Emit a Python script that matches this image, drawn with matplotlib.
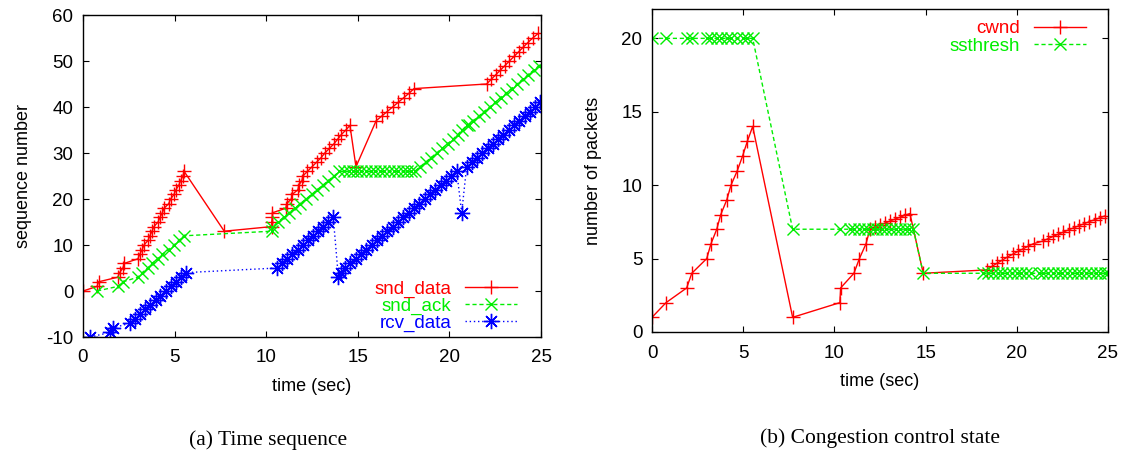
import matplotlib
matplotlib.use('Agg')
import matplotlib.pyplot as plt

plt.rcParams['font.family'] = ['Liberation Sans', 'DejaVu Sans']
plt.rcParams['axes.unicode_minus'] = False

# (a) time sequence
snd_data_t = [0, 0.77, 0.85, 1.9, 2.0, 2.18, 2.25, 3.0, 3.1, 3.23, 3.33, 3.55, 3.65,
              3.77, 3.87, 4.1, 4.2, 4.33, 4.43, 4.68, 4.78, 4.97, 5.07, 5.23, 5.33,
              5.45, 5.52, 7.71, 10.3, 10.3, 10.34, 10.34, 11.07, 11.12, 11.37, 11.42,
              11.73, 11.78, 11.95, 12.0, 12.25, 12.5, 12.75, 13.0, 13.2, 13.45, 13.7,
              13.9, 14.1, 14.35, 14.57, 14.9, 16.0, 16.3, 16.6, 16.9, 17.2, 17.5,
              17.8, 18.07, 22.03, 22.28, 22.53, 22.78, 23.03, 23.28, 23.53, 23.78,
              24.03, 24.28, 24.55, 24.85]
snd_data_s = [0, 1, 2, 3, 4, 5, 6, 7, 8, 9, 10, 11, 12, 13, 14, 15, 16, 17, 18, 19,
              20, 21, 22, 23, 24, 25, 26, 13, 14, 15, 16, 17, 18, 19, 20, 21, 22, 23,
              24, 25, 26, 27, 28, 29, 30, 31, 32, 33, 34, 35, 36, 27, 37, 38, 39, 40,
              41, 42, 43, 44, 45, 46, 47, 48, 49, 50, 51, 52, 53, 54, 55, 56]

snd_ack_t = [0.77, 1.9, 2.18, 3.0, 3.23, 3.55, 3.77, 4.1, 4.33, 4.68, 4.97, 5.23, 5.52,
             10.3, 10.34, 10.65, 10.95, 11.26, 11.56, 11.87, 12.17, 12.48, 12.78,
             13.09, 13.39, 13.7, 14.0, 14.25, 14.5, 14.75, 14.95, 15.2, 15.45, 15.7,
             15.95, 16.2, 16.45, 16.7, 16.95, 17.2, 17.45, 17.7, 17.9, 18.1, 18.4,
             18.7, 19.0, 19.3, 19.6, 19.9, 20.2, 20.45, 20.7, 20.95, 21.05, 21.3,
             21.6, 21.9, 22.2, 22.5, 22.8, 23.1, 23.4, 23.7, 24.0, 24.3, 24.6, 24.9]
snd_ack_s = [0, 1, 2, 3, 4, 5, 6, 7, 8, 9, 10, 11, 12, 13, 14, 15, 16, 17, 18, 19, 20,
             21, 22, 23, 24, 25, 26, 26, 26, 26, 26, 26, 26, 26, 26, 26, 26, 26, 26,
             26, 26, 26, 26, 26, 27, 28, 29, 30, 31, 32, 33, 34, 35, 36, 36, 37, 38,
             39, 40, 41, 42, 43, 44, 45, 46, 47, 48, 49]

rcv_data_t = [0.38, 1.5, 1.66, 2.57, 2.85, 3.12, 3.4, 3.68, 3.96, 4.23, 4.51, 4.79,
              5.07, 5.34, 5.62, 10.6, 10.88, 11.16, 11.43, 11.71, 11.99, 12.27, 12.55,
              12.82, 13.1, 13.38, 13.66, 13.94, 14.1, 14.3, 14.59, 14.88, 15.17, 15.46,
              15.75, 16.04, 16.33, 16.62, 16.91, 17.2, 17.49, 17.78, 18.07, 18.36,
              18.65, 18.94, 19.23, 19.52, 19.81, 20.1, 20.4, 20.67, 20.94, 21.23,
              21.52, 21.8, 22.09, 22.38, 22.66, 22.95, 23.24, 23.52, 23.81, 24.1,
              24.38, 24.67, 24.95]
rcv_data_s = [-10, -9, -8, -7, -6, -5, -4, -3, -2, -1, 0, 1, 2, 3, 4, 5, 6, 7, 8, 9, 10,
              11, 12, 13, 14, 15, 16, 3, 4, 5, 6, 7, 8, 9, 10, 11, 12, 13, 14, 15, 16,
              17, 18, 19, 20, 21, 22, 23, 24, 25, 26, 17, 27, 28, 29, 30, 31, 32, 33,
              34, 35, 36, 37, 38, 39, 40, 41]

# (b) congestion control state
cwnd_t = [0, 0.77, 1.9, 2.18, 3.0, 3.23, 3.55, 3.77, 4.1, 4.33, 4.68, 4.97, 5.23, 5.52,
          7.71, 10.3, 10.34, 11.07, 11.37, 11.73, 11.95, 12.23, 12.5, 12.78, 13.05,
          13.32, 13.6, 13.87, 14.14, 14.87, 18.35, 18.64, 18.92, 19.21, 19.49, 19.78,
          20.06, 20.35, 20.63, 20.92, 21.42, 21.7, 21.99, 22.27, 22.56, 22.84, 23.13,
          23.41, 23.7, 23.98, 24.27, 24.55, 24.84]
cwnd_v = [1, 2, 3, 4, 5, 6, 7, 8, 9, 10, 11, 12, 13, 14, 1, 2, 3, 4, 5, 6, 7, 7.14,
          7.28, 7.42, 7.56, 7.69, 7.82, 7.95, 8.07, 4, 4.23, 4.47, 4.69, 4.9, 5.11,
          5.3, 5.49, 5.67, 5.85, 6.02, 6.19, 6.35, 6.51, 6.66, 6.81, 6.96, 7.1, 7.24,
          7.38, 7.52, 7.65, 7.78, 7.91]

ssthresh_t = [0, 0.77, 1.9, 2.18, 3.0, 3.23, 3.55, 3.77, 4.1, 4.33, 4.68, 4.97, 5.23,
              5.52, 7.71, 10.3, 10.85, 11.1, 11.35, 11.6, 11.85, 12.1, 12.35, 12.6,
              12.85, 13.1, 13.35, 13.6, 13.85, 14.1, 14.33, 14.87, 18.17, 18.43, 18.69,
              18.95, 19.21, 19.47, 19.73, 19.99, 20.25, 20.51, 20.77, 21.2, 21.46,
              21.72, 21.98, 22.24, 22.5, 22.76, 23.02, 23.28, 23.54, 23.8, 24.06,
              24.32, 24.58, 24.84, 25.0]
ssthresh_v = [20] * 14 + [7] * 17 + [4] * 28

RED = '#ff0000'
GREEN = '#00ee00'
BLUE = '#0000ff'
ASTER = (8, 2, 0)  # gnuplot style asterisk

fig = plt.figure(figsize=(11.27, 4.59), dpi=100)


def style_axes(ax, xlim, ylim, yticks):
    ax.set_xlim(xlim)
    ax.set_ylim(ylim)
    ax.set_xticks([0, 5, 10, 15, 20, 25])
    ax.set_yticks(yticks)
    ax.tick_params(direction='in', top=True, right=True, length=4.5, width=0.8,
                   labelsize=13.5)
    ax.tick_params(axis='x', pad=9)
    ax.tick_params(axis='y', pad=7)
    for sp in ax.spines.values():
        sp.set_linewidth(1.0)


# left panel
ax1 = fig.add_axes([83 / 1127, 1 - 337 / 459, 458 / 1127, 322 / 459])
ax1.plot(snd_data_t, snd_data_s, color=RED, lw=1.0, marker='+', ms=10, mew=1.0,
         label='snd_data')
ax1.plot(snd_ack_t, snd_ack_s, color=GREEN, lw=1.0, ls=(0, (3, 2)), marker='x', ms=8,
         mew=1.0, label='snd_ack')
ax1.plot(rcv_data_t, rcv_data_s, color=BLUE, lw=1.0, ls=(0, (1, 2)), marker=ASTER,
         ms=11, mew=1.0, label='rcv_data')
style_axes(ax1, (0, 25), (-10, 60), range(-10, 61, 10))
ax1.set_xlabel('time (sec)', fontsize=13, labelpad=8)
ax1.set_ylabel('sequence number', fontsize=13, labelpad=10)
leg1 = ax1.legend(loc='lower right', bbox_to_anchor=((517 - 83) / 458, 0.015),
                  frameon=False, markerfirst=False, fontsize=13.5, handlelength=2.8,
                  handletextpad=0.7, labelspacing=0.0, borderpad=0, borderaxespad=0)
for txt, c in zip(leg1.get_texts(), [RED, GREEN, BLUE]):
    txt.set_color(c)

# right panel
ax2 = fig.add_axes([652 / 1127, 1 - 332 / 459, 456 / 1127, 323 / 459])
ax2.plot(cwnd_t, cwnd_v, color=RED, lw=1.0, marker='+', ms=10, mew=1.0, label='cwnd')
ax2.plot(ssthresh_t, ssthresh_v, color=GREEN, lw=1.0, ls=(0, (3, 2)), marker='x', ms=8,
         mew=1.0, label='ssthresh')
style_axes(ax2, (0, 25), (0, 22), range(0, 21, 5))
ax2.set_xlabel('time (sec)', fontsize=13, labelpad=8)
ax2.set_ylabel('number of packets', fontsize=13, labelpad=14)
leg2 = ax2.legend(loc='upper right', bbox_to_anchor=((1086 - 652) / 456, 0.965),
                  frameon=False, markerfirst=False, fontsize=13.5, handlelength=2.8,
                  handletextpad=0.7, labelspacing=0.0, borderpad=0, borderaxespad=0)
for txt, c in zip(leg2.get_texts(), [RED, GREEN]):
    txt.set_color(c)

fig.text(268 / 1127, 1 - 440 / 459, '(a) Time sequence', ha='center', va='center',
         fontsize=15.5, family=['Liberation Serif', 'DejaVu Serif'])
fig.text(880 / 1127, 1 - 438 / 459, '(b) Congestion control state', ha='center',
         va='center', fontsize=15.5, family=['Liberation Serif', 'DejaVu Serif'])

fig.savefig('out.png', dpi=100)
